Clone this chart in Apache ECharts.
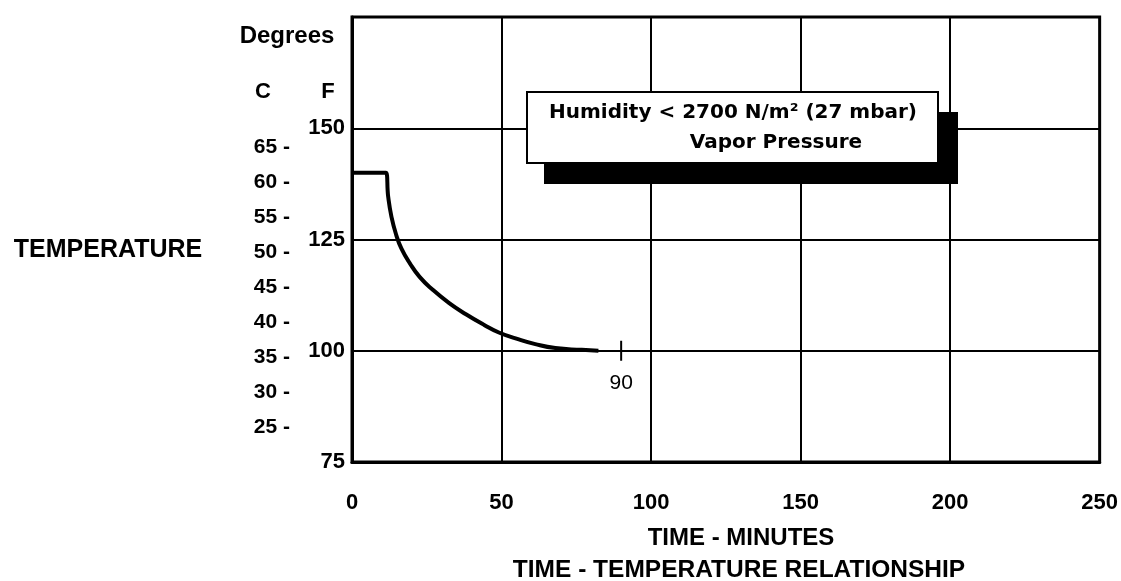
<!DOCTYPE html>
<html lang="en">
<head>
	<meta charset="UTF-8">
	<title>Time - Temperature Relationship</title>
	<style>
		html,body{margin:0;padding:0;background:#fff;}
		#chart{width:1121px;height:581px;}
	</style>
</head>
<body>
	<div id="chart"></div>
<script src="https://cdn.jsdelivr.net/npm/echarts@6.0.0/dist/echarts.min.js"></script>
<script>
// time in minutes, temperature in degrees F
var timeTicks = [0, 50, 100, 150, 200, 250];
var fTicks = [75, 100, 125, 150];
var cTicks = [25, 30, 35, 40, 45, 50, 55, 60, 65];
var curveTime = [0, 11.3, 12.1, 13.2, 14.8, 16.5, 19.3, 22.6, 27, 32.5, 38.1, 44.2, 49.1, 54.7, 61.3, 68, 76.8, 82.4];
var curveTemp = [140, 140, 134.6, 130.1, 126, 123, 119.7, 116.6, 113.7, 110.7, 108.2, 105.8, 104.1, 102.8, 101.5, 100.6, 100.2, 100];
var markTime = [90];
var markTemp = [100];
var boxLines = ['Humidity < 2700 N/m\u00b2 (27 mbar)', 'Vapor Pressure'];

function drawChart(id){
  var font = '"Liberation Sans", Arial, sans-serif';
  var boxFont = 'bold 20px "DejaVu Sans", sans-serif';
  var curve = [];
  for (var i = 0; i < curveTime.length; i++) {
    curve.push([curveTime[i], curveTemp[i]]);
  }
  var marks = [];
  for (var j = 0; j < markTime.length; j++) {
    marks.push([markTime[j], markTemp[j]]);
  }

  var chart = echarts.init(document.getElementById(id));
  var option = {
    backgroundColor: '#fff',
    animation: false,
    grid: {
      left: 352,
      right: 16,
      top: 17,
      bottom: 119,
      show: true,
      borderColor: '#000',
      borderWidth: 3
    },
    xAxis: {
      type: 'value',
      min: timeTicks[0],
      max: timeTicks[timeTicks.length - 1],
      interval: 50,
      axisLine: { lineStyle: { color: '#000', width: 3 } },
      axisTick: { show: false },
      axisLabel: {
        margin: 30,
        color: '#000',
        fontFamily: font,
        fontWeight: 'bold',
        fontSize: 22
      },
      splitLine: { show: true, lineStyle: { color: '#000', width: 2 } }
    },
    yAxis: [
      {
        type: 'value',
        min: fTicks[0],
        max: 175,
        interval: 25,
        axisLine: { show: true, lineStyle: { color: '#000', width: 3 } },
        axisTick: { show: false },
        axisLabel: {
          margin: 7,
          padding: [0, 0, 12, 0],
          color: '#000',
          fontFamily: font,
          fontWeight: 'bold',
          fontSize: 22,
          formatter: function (v) {
            return fTicks.indexOf(v) >= 0 ? String(v) : '';
          }
        },
        splitLine: { show: true, lineStyle: { color: '#000', width: 2 } }
      },
      {
        type: 'value',
        position: 'left',
        min: 20,
        max: 83.57,
        interval: 5,
        axisLine: { show: false },
        axisTick: { show: false },
        splitLine: { show: false },
        axisLabel: {
          margin: 62,
          color: '#000',
          fontFamily: font,
          fontWeight: 'bold',
          fontSize: 21,
          formatter: function (v) {
            return cTicks.indexOf(v) >= 0 ? v + ' -' : '';
          }
        }
      }
    ],
    graphic: [
      { type: 'text', x: 287, y: 36, style: { text: 'Degrees', fill: '#000', font: 'bold 24px ' + font, textAlign: 'center', textVerticalAlign: 'middle' } },
      { type: 'text', x: 263, y: 92, style: { text: 'C', fill: '#000', font: 'bold 22px ' + font, textAlign: 'center', textVerticalAlign: 'middle' } },
      { type: 'text', x: 328, y: 92, style: { text: 'F', fill: '#000', font: 'bold 22px ' + font, textAlign: 'center', textVerticalAlign: 'middle' } },
      { type: 'text', x: 108, y: 250, style: { text: 'TEMPERATURE', fill: '#000', font: 'bold 25px ' + font, textAlign: 'center', textVerticalAlign: 'middle' } },
      { type: 'text', x: 741, y: 538, style: { text: 'TIME - MINUTES', fill: '#000', font: 'bold 24px ' + font, textAlign: 'center', textVerticalAlign: 'middle' } },
      { type: 'text', x: 739, y: 570, style: { text: 'TIME - TEMPERATURE RELATIONSHIP', fill: '#000', font: 'bold 24.5px ' + font, textAlign: 'center', textVerticalAlign: 'middle' } },
      // annotation box with its drop shadow
      { type: 'rect', z: 100, shape: { x: 544, y: 112, width: 414, height: 72 }, style: { fill: '#000' } },
      { type: 'rect', z: 101, shape: { x: 527, y: 92, width: 411, height: 71 }, style: { fill: '#fff', stroke: '#000', lineWidth: 2 } },
      { type: 'text', z: 102, x: 733, y: 113, style: { text: boxLines[0], fill: '#000', font: boxFont, textAlign: 'center', textVerticalAlign: 'middle' } },
      { type: 'text', z: 102, x: 776, y: 143, style: { text: boxLines[1], fill: '#000', font: boxFont, textAlign: 'center', textVerticalAlign: 'middle' } }
    ],
    series: [
      {
        name: 'Temperature',
        type: 'line',
        data: curve,
        symbol: 'none',
        smooth: 0.5,
        lineStyle: { color: '#000', width: 4 },
        z: 5
      },
      {
        name: 'Mark',
        type: 'scatter',
        data: marks,
        symbol: 'rect',
        symbolSize: [2, 20],
        itemStyle: { color: '#000', opacity: 1 },
        label: {
          show: true,
          position: 'bottom',
          distance: 12,
          color: '#000',
          fontFamily: font,
          fontSize: 21,
          formatter: function (p) { return String(p.value[0]); }
        },
        z: 5
      }
    ]
  };
  chart.setOption(option);
}

drawChart('chart');
</script>
</body>
</html>
